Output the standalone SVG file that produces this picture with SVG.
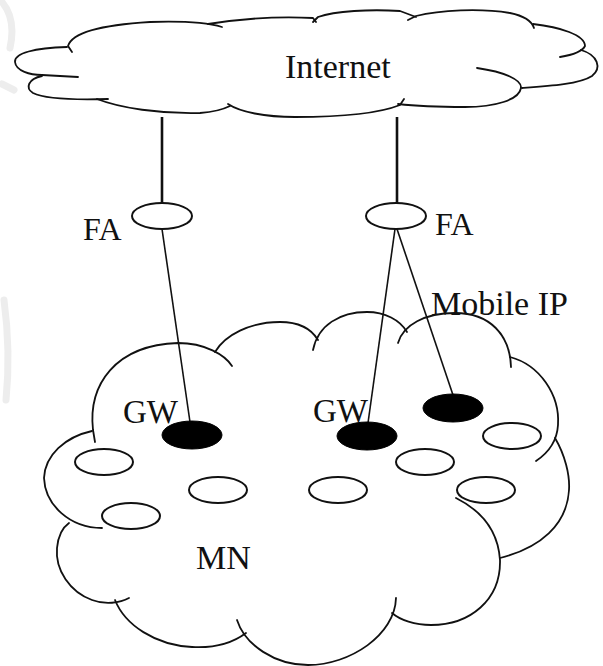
<svg xmlns="http://www.w3.org/2000/svg" width="603" height="666" viewBox="0 0 603 666">
<style>
.cloud{fill:none;stroke:#111;stroke-width:1.8;stroke-linecap:round;stroke-linejoin:round}
.link{fill:none;stroke:#111;stroke-width:1.6}
.trunk{fill:none;stroke:#111;stroke-width:2.6}
.fa{fill:#fff;stroke:#111;stroke-width:2}
.mn{fill:#fff;stroke:#111;stroke-width:2}
.gw{fill:#000;stroke:#000;stroke-width:1}
text{font-family:"Liberation Serif","Times New Roman",serif;fill:#111}
.wm{fill:none;stroke:#ededed;stroke-width:7;stroke-linecap:round}
</style>
<rect width="603" height="666" fill="#fff"/>
<g id="watermark">
<path class="wm" d="M 2,2 C 12,14 14,30 10,48"/>
<path class="wm" d="M 2,84 C 6,86 10,88 14,90"/>
<path class="wm" d="M 4,300 C 8,330 10,360 6,400"/>
</g>
<g id="internet">
<path class="cloud" d="M 67,47 C 35,48 14,53 15,62 C 16,71 30,75 42,75 L 78,77"/>
<path class="cloud" d="M 42,76 C 28,79 25,88 33,93 C 45,99 75,100 108,99"/>
<path class="cloud" d="M 97,99 C 120,108 160,114 200,113 C 212,112 222,110 230,106"/>
<path class="cloud" d="M 228,104 C 240,112 265,117 295,117 C 340,117 380,113 400,105 L 404,99"/>
<path class="cloud" d="M 477,68 C 505,72 522,80 521,88 C 519,100 495,107 465,107 C 440,107 415,106 398,104"/>
<path class="cloud" d="M 581,50 C 598,55 602,68 592,76 C 580,84 550,86 522,88"/>
<path class="cloud" d="M 533,24 C 560,27 585,35 585,46 C 582,52 572,55 560,57"/>
<path class="cloud" d="M 408,20 L 416,16 C 440,10 480,8 510,13 C 525,16 532,22 534,28"/>
<path class="cloud" d="M 313,22 L 318,17 C 335,11 370,9 400,11 L 416,17"/>
<path class="cloud" d="M 208,24 C 240,19 280,16 313,18 L 316,22"/>
<path class="cloud" d="M 72,52 L 68,46 C 72,33 100,25 150,22 C 180,21 205,22 222,27"/>
<text x="285" y="78" font-size="34">Internet</text>
</g>
<g id="mn-cloud">
<path class="cloud" d="M 95,442 L 93,430 C 88,385 115,345 178,343 C 205,343 225,355 232,366"/>
<path class="cloud" d="M 215,352 C 225,335 250,322 280,322 C 300,322 312,330 318,340"/>
<path class="cloud" d="M 313,350 C 318,325 340,312 367,312 C 385,312 400,320 407,332"/>
<path class="cloud" d="M 398,343 C 403,325 425,313 455,313 C 490,313 510,335 511,367"/>
<path class="cloud" d="M 510,357 C 540,365 560,395 558,425 C 557,442 548,453 536,461"/>
<path class="cloud" d="M 555,438 C 565,455 570,475 569,490 C 567,525 540,548 500,558"/>
<path class="cloud" d="M 456,498 C 480,510 498,530 500,560 C 501,600 470,625 431,625 C 415,625 400,620 392,613"/>
<path class="cloud" d="M 396,598 C 395,635 350,665 308,665 C 275,665 245,645 237,620"/>
<path class="cloud" d="M 246,633 C 230,645 210,648 192,647 C 155,645 125,625 115,600"/>
<path class="cloud" d="M 129,598 C 120,603 105,605 92,600 C 70,592 55,570 57,548 C 58,537 62,528 69,523"/>
<path class="cloud" d="M 102,528 C 70,528 45,505 44,478 C 45,455 65,437 92,431"/>
<text x="196" y="569" font-size="34">MN</text>
</g>
<g id="connectors">
<line class="trunk" x1="162" y1="117" x2="162" y2="203"/>
<line class="trunk" x1="397" y1="117" x2="397" y2="203"/>
<line class="link" x1="162" y1="229" x2="190" y2="422"/>
<line class="link" x1="395" y1="229" x2="368" y2="423"/>
<line class="link" x1="397" y1="229" x2="453" y2="395"/>
</g>
<g id="fa-left">
<ellipse class="fa" cx="162" cy="216" rx="30" ry="13"/>
<text x="83" y="240" font-size="32">FA</text>
</g>
<g id="fa-right">
<ellipse class="fa" cx="396" cy="216" rx="30" ry="13"/>
<text x="435" y="235" font-size="32">FA</text>
</g>
<g id="mobile-ip-label">
<text x="431" y="315" font-size="34">Mobile IP</text>
</g>
<g id="gw-left">
<text x="123" y="423" font-size="33">GW</text>
<ellipse class="gw" cx="192" cy="435" rx="30" ry="14"/>
</g>
<g id="gw-mid">
<text x="313" y="422" font-size="33">GW</text>
<ellipse class="gw" cx="367" cy="436" rx="30" ry="14"/>
</g>
<g id="gw-right">
<ellipse class="gw" cx="453" cy="408" rx="30" ry="14"/>
</g>
<g id="mobile-nodes">
<ellipse class="mn" cx="104" cy="462" rx="29" ry="13"/>
<ellipse class="mn" cx="218" cy="490" rx="29" ry="13"/>
<ellipse class="mn" cx="131" cy="516" rx="29" ry="13"/>
<ellipse class="mn" cx="338" cy="490" rx="29" ry="13"/>
<ellipse class="mn" cx="425" cy="462" rx="29" ry="13"/>
<ellipse class="mn" cx="512" cy="436" rx="29" ry="13"/>
<ellipse class="mn" cx="486" cy="490" rx="29" ry="13"/>
</g>
</svg>
